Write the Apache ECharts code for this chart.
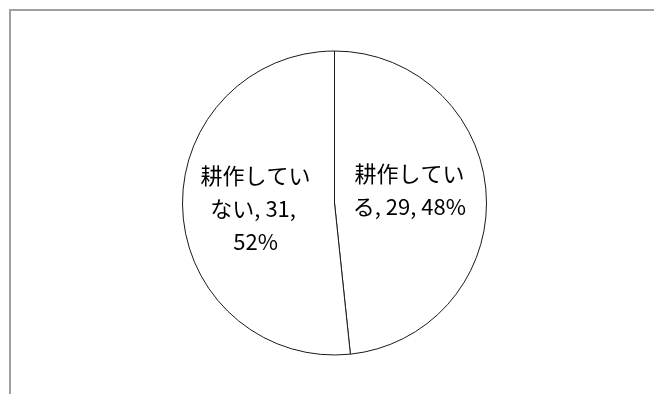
<!DOCTYPE html>
<html>
<head>
<meta charset="utf-8">
<script src="https://cdn.jsdelivr.net/npm/echarts@6/dist/echarts.min.js"></script>
<style>
  html, body { margin: 0; padding: 0; background: #fff; }
  #chart { width: 654px; height: 394px; }
</style>
</head>
<body>
<div id="chart"></div>
<script>
// Farming status: number of respondents per answer
const categories = ['耕作している', '耕作していない'];
const counts = [29, 31];
// Small nudges for each slice's inside label
const labelOffsets = [[-4, -9], [0, 2]];

const chart = echarts.init(document.getElementById('chart'), null, { renderer: 'canvas' });

chart.setOption({
  backgroundColor: '#ffffff',
  animation: false,
  graphic: [{
    type: 'polyline',
    shape: { points: [[10, 394], [10, 10], [654, 10]] },
    style: { stroke: '#a0a0a0', lineWidth: 2, fill: null },
    silent: true
  }],
  series: [{
    type: 'pie',
    center: [334.5, 203],
    radius: [0, 152],
    startAngle: 90,
    clockwise: true,
    percentPrecision: 0,
    avoidLabelOverlap: false,
    itemStyle: { color: '#ffffff', borderColor: '#1a1a1a', borderWidth: 1 },
    emphasis: { disabled: true },
    label: {
      show: true,
      position: 'inside',
      formatter: '{b}, {c}, {d}%',
      color: '#000000',
      fontFamily: '"Noto Sans CJK JP", sans-serif',
      fontSize: 22,
      lineHeight: 33,
      width: 120,
      overflow: 'break',
      align: 'center'
    },
    labelLine: { show: false },
    data: categories.map((name, i) => ({
      name,
      value: counts[i],
      label: { offset: labelOffsets[i] }
    }))
  }]
});
</script>
</body>
</html>
